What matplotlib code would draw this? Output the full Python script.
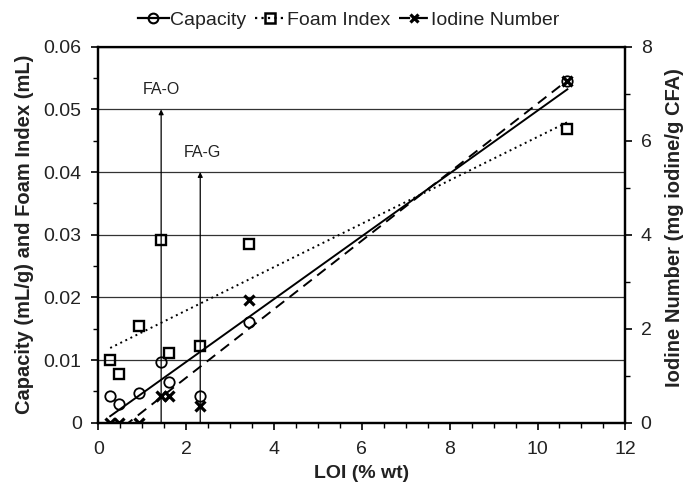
import numpy as np
import matplotlib
matplotlib.use('Agg')
import matplotlib.pyplot as plt
from matplotlib.lines import Line2D

plt.rcParams['font.family'] = ['Liberation Sans', 'DejaVu Sans']

# --- datos ---
loi = [0.27, 0.46, 0.93, 1.43, 1.60, 2.32, 3.42, 10.68]
capacity = [0.0043, 0.0030, 0.0048, 0.0097, 0.0065, 0.0043, 0.0161, 0.0546]
foam_index = [0.0100, 0.0077, 0.0154, 0.0292, 0.0111, 0.0123, 0.0285, 0.0468]
iodine = [0.0, 0.0, 0.0, 0.57, 0.57, 0.36, 2.61, 7.28]

# marcas de las cenizas FA-O y FA-G
fa_labels = ['FA-O', 'FA-G']
fa_x = [1.43, 2.32]
fa_top = [0.050, 0.040]
fa_text_x = [1.44, 2.38]
fa_text_y = [0.0532, 0.0431]

x = np.array(loi)

fig = plt.figure(figsize=(6.97, 4.87), dpi=100)
ax = fig.add_axes([0.1411, 0.132, 0.7561, 0.772])
ax2 = ax.twinx()

# rejilla horizontal
for g in np.arange(0.01, 0.061, 0.01):
    ax.axhline(g, color='#333333', lw=0.9, zorder=0)

# lineas de tendencia (minimos cuadrados)
xf = np.array([min(loi), max(loi)])
p_cap = np.polyfit(x, capacity, 1)
p_foam = np.polyfit(x, foam_index, 1)
p_iod = np.polyfit(x, iodine, 1)
ax.plot(xf, np.polyval(p_cap, xf), 'k-', lw=1.4, zorder=2)
ax.plot(xf, np.polyval(p_foam, xf), color='k', ls=(0, (1, 1.9)), lw=1.4, zorder=2)
ax2.plot(xf, np.polyval(p_iod, xf), color='k', ls=(0, (5.5, 3.5)), lw=1.4, zorder=2)

# puntos
ax.plot(x, capacity, 'o', ms=7.5, mfc='none', mec='k', mew=1.3, zorder=3)
ax.plot(x, foam_index, 's', ms=7, mfc='none', mec='k', mew=1.7, zorder=3)
ax2.plot(x, iodine, 'x', ms=6.5, mec='k', mew=2.3, zorder=3)

# flechas FA-O / FA-G
for xv, top in zip(fa_x, fa_top):
    ax.annotate('', xy=(xv, top), xytext=(xv, 0),
                arrowprops=dict(arrowstyle='-|>', color='k', lw=0.9,
                                mutation_scale=7, shrinkA=0, shrinkB=0))
for lab, tx, ty in zip(fa_labels, fa_text_x, fa_text_y):
    ax.text(tx, ty, lab, ha='center', va='center', fontsize=11.5, color='#222222')

ax.set_xlim(0, 12)
ax.set_ylim(0, 0.06)
ax2.set_ylim(0, 8)
ax.set_xticks(np.arange(0, 13, 2))
ax.set_xticks(np.arange(0, 12.01, 0.5), minor=True)
ax.set_yticks(np.arange(0, 0.061, 0.01))
ax.set_yticklabels(['0', '0.01', '0.02', '0.03', '0.04', '0.05', '0.06'])
ax.set_yticks(np.arange(0, 0.061, 0.005), minor=True)
ax2.set_yticks(np.arange(0, 9, 2))
ax2.set_yticks(np.arange(0, 9, 1), minor=True)

for a in (ax, ax2):
    a.tick_params(which='major', direction='out', length=5, width=1.2, labelsize=14,
                  labelcolor='#222222')
    a.tick_params(which='minor', direction='out', length=3.5, width=1.0)
    for s in a.spines.values():
        s.set_linewidth(1.6)
ax.tick_params(axis='y', which='major', pad=7)
ax.tick_params(axis='x', which='major', pad=8)
ax2.tick_params(axis='y', which='major', pad=6)
ax.spines['top'].set_linewidth(0.9)

ax.set_xlabel('LOI (% wt)', fontsize=14, fontweight='bold', color='#222222')
ax.set_ylabel('Capacity (mL/g) and Foam Index (mL)', fontsize=14.5, fontweight='bold',
              color='#222222')
ax2.set_ylabel('Iodine Number (mg iodine/g CFA)', fontsize=14.5, fontweight='bold',
               color='#222222')
ax.xaxis.set_label_coords(0.5, -0.113)
ax.yaxis.set_label_coords(-0.123, 0.5)
ax2.yaxis.set_label_coords(1.076, 0.52)

handles = [
    Line2D([], [], color='k', ls='-', lw=1.6, marker='o', ms=7, mfc='none', mew=1.5),
    Line2D([], [], color='k', ls=(0, (1, 1.9)), lw=1.6, marker='s', ms=6.5, mfc='none', mew=1.8),
    Line2D([], [], color='k', ls=(0, (5, 3)), lw=1.6, marker='x', ms=6, mew=2.3),
]
fig.legend(handles, ['Capacity', 'Foam Index', 'Iodine Number'], loc='center',
           bbox_to_anchor=(0.50, 0.959), ncol=3, frameon=False, fontsize=14,
           handlelength=1.6, handletextpad=0.05, columnspacing=0.45,
           labelcolor='#222222')

fig.savefig('out.png', dpi=100)
